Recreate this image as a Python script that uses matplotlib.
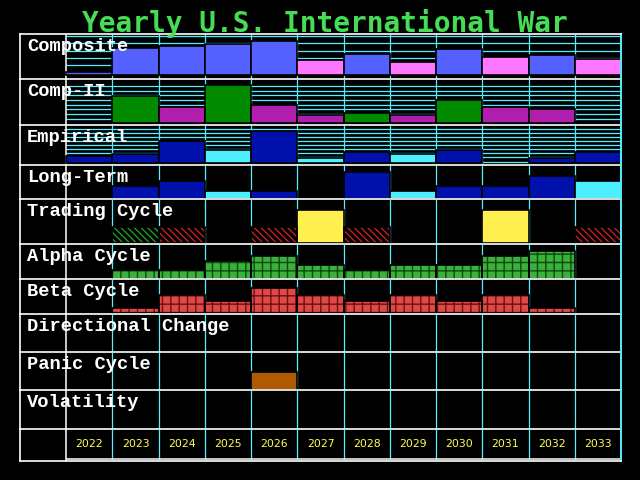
import matplotlib
matplotlib.use("Agg")
import matplotlib.pyplot as plt
import matplotlib.transforms as mtransforms

# ---------------- data ----------------
years = list(range(2022, 2034))
year_labels = [str(y) for y in years]
title = "Yearly U.S. International War"
row_labels = ["Composite", "Comp-II", "Empirical", "Long-Term", "Trading Cycle",
              "Alpha Cycle", "Beta Cycle", "Directional Change", "Panic Cycle", "Volatility"]

composite_vals = [3.3, 27.3, 29.3, 31.6, 34.3, 15.3, 21.6, 13.6, 26.3, 18.6, 20.6, 16.6]
composite_kind = ["u", "u", "u", "u", "u", "d", "u", "d", "u", "d", "u", "d"]

comp2_vals = [0, 27, 16, 38, 18, 8, 10.3, 8, 23.3, 16.3, 14.3, 1.2]
comp2_kind = ["u", "u", "d", "u", "d", "d", "u", "d", "u", "d", "d", "d"]

empirical_vals = [7.6, 9.6, 22.3, 13.3, 32.3, 5.6, 11.6, 9.6, 13.6, 0, 5.6, 11.6]
empirical_kind = ["u", "u", "u", "d", "u", "d", "u", "d", "u", "u", "u", "u"]

longterm_vals = [0, 12.7, 17.7, 7.7, 7.7, 0, 27, 7.7, 12.7, 12.7, 23, 17.7]
longterm_kind = ["u", "u", "u", "d", "u", "u", "u", "d", "u", "u", "u", "d"]

trading_kind = [None, "g", "r", None, "r", "y", "r", None, None, "y", None, "r"]
trading_height = {"g": 16.3, "r": 16.3, "y": 33.3}

alpha_vals = [0, 9, 9, 18, 23, 14, 9, 14, 14, 23, 28, 0]
beta_vals = [0, 5.3, 18.3, 12.3, 25.3, 18.3, 12.3, 18.3, 12.3, 18.3, 5.3, 0]
panic_vals = [0, 0, 0, 0, 18, 0, 0, 0, 0, 0, 0, 0]

composite_grid = [2.6, 10, 17.3, 24.6, 32, 39.3]
comp2_grid = [4.3, 9, 13.7, 18.3, 23, 27.7, 32.3, 37]
empirical_grid = [1.5, 6, 10, 14, 18, 22, 26, 30, 34]

# ---------------- style ----------------
BG = "black"
CYAN = "#55EEFF"
WHITE = "white"
colors_comp = {"u": "#5561FF", "d": "#FF77FF"}
colors_comp2 = {"u": "#008A00", "d": "#B01EAE"}
colors_emp = {"u": "#0010AA", "d": "#4DEEFF"}

plt.rcParams["hatch.linewidth"] = 1.0

fig = plt.figure(figsize=(6.4, 4.8), dpi=100, facecolor=BG)

row_edges = [34.3, 79.3, 125.3, 165, 199.3, 244.3, 279.3, 314, 352.3, 390.3, 429.3, 461]
gaps = [4, 2.3, 1.7, 0.6, 1, 0.3, 0.7, 0, 0.3, 0, 0]
X0, X1 = 20, 621
W, H = 640, 480


def make_row(i):
    top, bot = row_edges[i], row_edges[i + 1]
    h = bot - top
    ax = fig.add_axes([X0 / W, (H - bot) / H, (X1 - X0) / W, h / H])
    ax.set_facecolor("none")
    ax.set_xlim(2020.5, 2033.5)
    ax.set_ylim(-gaps[i], h - gaps[i])
    ax.set_xticks([])
    ax.set_yticks([])
    for s in ax.spines.values():
        s.set_visible(False)
    ax.spines["bottom"].set_visible(True)
    ax.spines["bottom"].set_color(WHITE)
    ax.spines["bottom"].set_linewidth(1.2)
    ax.spines["left"].set_visible(True)
    ax.spines["left"].set_color(WHITE)
    ax.spines["left"].set_linewidth(1.2)
    ax.spines["right"].set_visible(True)
    ax.spines["right"].set_color(CYAN)
    ax.spines["right"].set_linewidth(1.4)
    if i == 0:
        ax.spines["top"].set_visible(True)
        ax.spines["top"].set_color(WHITE)
        ax.spines["top"].set_linewidth(1.2)
    return ax, h


def label(ax, h, text):
    tr = mtransforms.blended_transform_factory(ax.transData, ax.transAxes)
    ax.text(2020.65, 1 - 12.5 / h, text, transform=tr, color=WHITE,
            fontsize=13.5, family="Liberation Mono", weight="bold",
            va="center", ha="left", zorder=10)


def verticals(ax, y0=None, y1=None):
    lo, hi = ax.get_ylim()
    y0 = lo if y0 is None else y0
    y1 = hi if y1 is None else y1
    ax.vlines([y + 0.5 for y in years[:-1]], y0, y1, color=CYAN, lw=0.9, zorder=1)
    ax.vlines([2021.5], lo, hi, color=WHITE, lw=1.1, zorder=1.5)


def solid_bars(ax, vals, kinds, cmap):
    for yr, v, k in zip(years, vals, kinds):
        if v > 0:
            ax.bar(yr, v, width=1.0, bottom=0, color=cmap[k], edgecolor="black",
                   linewidth=1.2, zorder=2)


def hatched_bars(ax, vals, face, hcolor, hatch):
    for yr, v in zip(years, vals):
        if v > 0:
            ax.bar(yr, v, width=1.0, color=face, edgecolor=hcolor, hatch=hatch,
                   linewidth=0, zorder=2)
            ax.bar(yr, v, width=1.0, fill=False, edgecolor="black",
                   linewidth=1.2, zorder=2.1)


# Row 0: Composite
ax, h = make_row(0)
verticals(ax)
ax.hlines(composite_grid, 2021.5, 2033.5, color=CYAN, lw=0.9, zorder=1)
solid_bars(ax, composite_vals, composite_kind, colors_comp)
label(ax, h, row_labels[0])

# Row 1: Comp-II
ax, h = make_row(1)
verticals(ax)
ax.hlines(comp2_grid, 2021.5, 2033.5, color=CYAN, lw=0.9, zorder=1)
solid_bars(ax, comp2_vals, comp2_kind, colors_comp2)
label(ax, h, row_labels[1])

# Row 2: Empirical
ax, h = make_row(2)
verticals(ax)
ax.hlines(empirical_grid, 2021.5, 2033.5, color=CYAN, lw=0.9, zorder=1)
solid_bars(ax, empirical_vals, empirical_kind, colors_emp)
label(ax, h, row_labels[2])

# Row 3: Long-Term
ax, h = make_row(3)
verticals(ax)
solid_bars(ax, longterm_vals, longterm_kind, colors_emp)
label(ax, h, row_labels[3])

# Row 4: Trading Cycle
ax, h = make_row(4)
verticals(ax)
for yr, k in zip(years, trading_kind):
    if k is None:
        continue
    v = trading_height[k]
    if k == "y":
        ax.bar(yr, v, width=1.0, color="#FFF050", edgecolor="black", linewidth=1.2, zorder=2)
    else:
        hc = "#1E9A1E" if k == "g" else "#C02020"
        ax.bar(yr, v, width=1.0, color="black", edgecolor=hc, hatch="\\\\\\\\\\",
               linewidth=0, zorder=2)
        ax.bar(yr, v, width=1.0, fill=False, edgecolor="black", linewidth=1.2, zorder=2.1)
label(ax, h, row_labels[4])

# Row 5: Alpha Cycle
ax, h = make_row(5)
verticals(ax)
hatched_bars(ax, alpha_vals, "#3CB03C", "#0E4A0E", "++")
label(ax, h, row_labels[5])

# Row 6: Beta Cycle
ax, h = make_row(6)
verticals(ax)
hatched_bars(ax, beta_vals, "#E04848", "#6A1010", "++")
label(ax, h, row_labels[6])

# Row 7: Directional Change
ax, h = make_row(7)
verticals(ax)
label(ax, h, row_labels[7])

# Row 8: Panic Cycle
ax, h = make_row(8)
verticals(ax)
solid_bars(ax, panic_vals, ["u"] * len(years), {"u": "#B05A00"})
label(ax, h, row_labels[8])

# Row 9: Volatility
ax, h = make_row(9)
verticals(ax)
label(ax, h, row_labels[9])

# Row 10: year labels
ax, h = make_row(10)
inner = 2.3
verticals(ax, inner, h)
ax.hlines([inner], 2021.5, 2033.5, color=WHITE, lw=1.1, zorder=1.5)
for yr, t in zip(years, year_labels):
    ax.text(yr, h - 14.7, t, color="#FFFF55", fontsize=7.8, family="DejaVu Sans",
            ha="center", va="center", zorder=5)

fig.text(0.508, 1 - 31.7 / H, title, color="#44DD55", fontsize=20,
         family="DejaVu Sans Mono", weight="bold", ha="center", va="baseline")

fig.savefig("out.png", dpi=100, facecolor=BG)
